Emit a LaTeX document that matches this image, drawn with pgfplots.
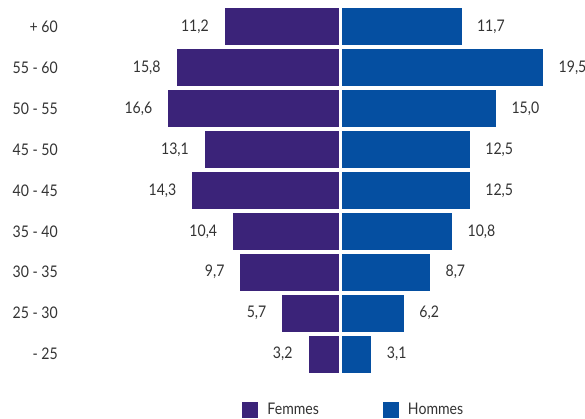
\documentclass[border=0pt]{standalone}
\usepackage{pgfplots}
\pgfplotsset{compat=1.18}
\usepackage{pgfplotstable}
\usepackage{fontspec}
\setmainfont{Lato}[FakeStretch=0.88]
\definecolor{fem}{RGB}{59,35,121}
\definecolor{hom}{RGB}{5,79,161}
\definecolor{txt}{RGB}{51,51,51}
\newcommand{\lbl}{\fontsize{16}{19}\selectfont}

\pgfplotstableread{
idx f h
0 11.2 11.7
1 15.8 19.5
2 16.6 15.0
3 13.1 12.5
4 14.3 12.5
5 10.4 10.8
6 9.7 8.7
7 5.7 6.2
8 3.2 3.1
}\data

\begin{document}
\begin{tikzpicture}
\useasboundingbox (0,0) rectangle (585pt,418pt);
\begin{axis}[
  at={(62pt,411.45pt)}, anchor=north west,
  scale only axis, width=523pt, height=367.9pt,
  xmin=-26.60, xmax=23.35, ymin=-0.5, ymax=8.5, y dir=reverse,
  axis line style={draw=none},
  xtick=\empty, ytick={0,...,8},
  yticklabels={+ 60, 55 - 60, 50 - 55, 45 - 50, 40 - 45, 35 - 40, 30 - 35, 25 - 30, - 25},
  major tick length=0pt,
  yticklabel style={font=\lbl, text=txt, inner sep=0pt, xshift=-4pt},
  clip=false,
  nodes near coords,
  nodes near coords style={font=\lbl, text=txt, inner sep=0pt},
  /pgf/number format/use comma,
  /pgf/number format/fixed,
  /pgf/number format/fixed zerofill,
  /pgf/number format/precision=1,
  /pgf/number format/assume math mode=true,
  legend columns=2,
  legend style={draw=none, fill=none, at={(0.558,-0.0966)}, anchor=center,
    font=\lbl, text=txt, inner sep=0pt,
    /tikz/every odd column/.append style={column sep=7pt},
    /tikz/every even column/.append style={column sep=62pt}},
  legend image code/.code={\fill[#1, draw=none] (0pt,-8pt) rectangle (16pt,8pt);},
]
\addplot[xbar, bar shift=0pt, bar width=40pt, fill=fem, draw=white, line width=3pt,
  point meta=explicit,
  every node near coord/.append style={anchor=east, xshift=-13pt}]
  table[x expr=-\thisrow{f}, y=idx, meta=f] {\data};
\addlegendentry{Femmes}
\addplot[xbar, bar shift=0pt, bar width=40pt, fill=hom, draw=white, line width=3pt,
  point meta=explicit,
  every node near coord/.append style={anchor=west, xshift=12.5pt}]
  table[x=h, y=idx, meta=h] {\data};
\addlegendentry{Hommes}
\end{axis}
\end{tikzpicture}
\end{document}
